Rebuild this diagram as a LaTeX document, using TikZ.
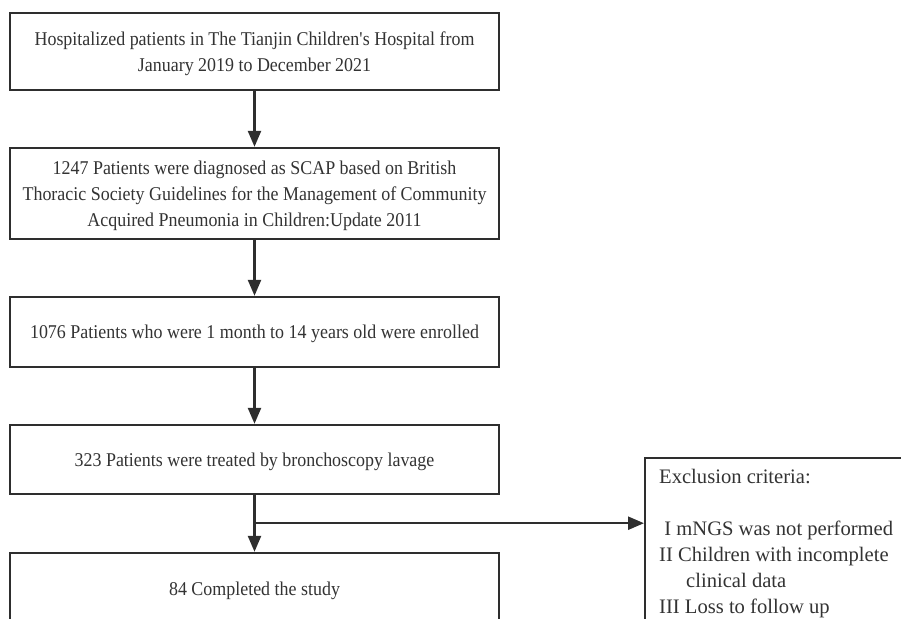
\documentclass[tikz,border=0pt]{standalone}
\usepackage{fontspec}
\setmainfont{Liberation Serif}
\newfontfamily\stagefont[FakeStretch=0.92]{Liberation Serif}
\usetikzlibrary{arrows.meta, positioning, calc}
\definecolor{inkgray}{HTML}{2E2E2E}
\definecolor{txtgray}{HTML}{333333}
\tikzset{
  stagebox/.style={rectangle,draw=inkgray,line width=2.4pt,fill=white,
    minimum width=489pt,minimum height=#1,align=center,inner sep=0pt,
    text depth=0pt,text=txtgray,font=\stagefont\fontsize{19.5}{26}\selectfont},
  exbox/.style={rectangle,draw=inkgray,line width=2.4pt,fill=white,
    minimum width=300pt,minimum height=220pt,inner sep=0pt},
  extext/.style={align=left,inner sep=0pt,text=txtgray,
    font=\fontsize{20.6}{26}\selectfont},
  arrow/.style={-{Triangle[length=16pt,width=13pt]},line width=2.4pt,inkgray},
}
\begin{document}
\begin{tikzpicture}[x=1pt,y=-1pt]
  \useasboundingbox (0,0) rectangle (901,618);
  \clip (0,0) rectangle (901,618);
  % flow boxes
  \node[stagebox=77pt,text depth=-7pt] (hosp) at (254.5,51.5)
    {Hospitalized patients in The Tianjin Children\textquotesingle s Hospital from\\January 2019 to December 2021};
  \node[stagebox=91pt,text depth=-7pt] (scap) at (254.5,193.5)
    {1247 Patients were diagnosed as SCAP based on British\\Thoracic Society Guidelines for the Management of Community\\Acquired Pneumonia in Children:Update 2011};
  \node[stagebox=70pt] (enrol) at (254.5,332)
    {1076 Patients who were 1 month to 14 years old were enrolled};
  \node[stagebox=69pt] (lavage) at (254.5,459.5)
    {323 Patients were treated by bronchoscopy lavage};
  \node[stagebox=72pt] (study) at (254.5,589)
    {84 Completed the study};
  % exclusion box
  \node[exbox,anchor=north west] (excl) at (644,457) {};
  \node[extext,anchor=north west] (crit) at ($(excl.north west)+(15,12)$)
    {Exclusion criteria:\\[26pt]
     \ I mNGS was not performed\\
     II Children with incomplete\\
     \hspace*{27pt}clinical data\\
     III Loss to follow up};
  % connectors
  \coordinate (branch) at ($(lavage.south)+(0,28)$);
  \draw[arrow] (hosp) -- (scap);
  \draw[arrow] (scap) -- (enrol);
  \draw[arrow] (enrol) -- (lavage);
  \draw[arrow] (lavage) -- (study);
  \draw[arrow] (branch) -- (branch -| excl.west);
\end{tikzpicture}
\end{document}
